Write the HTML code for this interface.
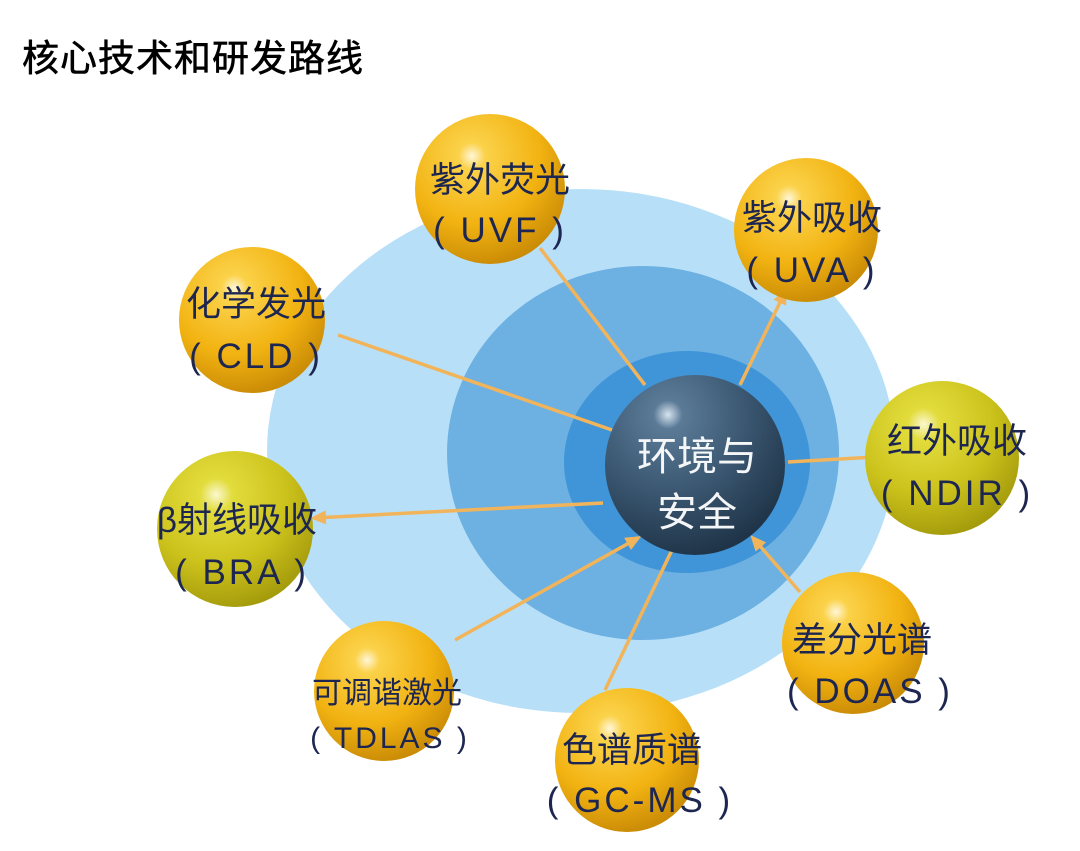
<!DOCTYPE html>
<html><head><meta charset="utf-8"><style>
html,body{margin:0;padding:0;background:#fff;width:1080px;height:851px;overflow:hidden}
svg{display:block}
</style></head><body>
<svg width="1080" height="851" viewBox="0 0 1080 851" xmlns="http://www.w3.org/2000/svg">
<defs>
<radialGradient id="gold" cx="0.38" cy="0.28" r="0.75">
<stop offset="0" stop-color="#fff6d8"/>
<stop offset="0.12" stop-color="#fbd24a"/>
<stop offset="0.6" stop-color="#f2b312"/>
<stop offset="1" stop-color="#c98a06"/>
</radialGradient>
<radialGradient id="lime" cx="0.38" cy="0.28" r="0.75">
<stop offset="0" stop-color="#fbf8d0"/>
<stop offset="0.14" stop-color="#e2dc3c"/>
<stop offset="0.6" stop-color="#ccc21c"/>
<stop offset="1" stop-color="#a39a0c"/>
</radialGradient>
<radialGradient id="navy" cx="0.35" cy="0.22" r="0.8">
<stop offset="0" stop-color="#d6e4f0"/>
<stop offset="0.1" stop-color="#5a7a96"/>
<stop offset="0.55" stop-color="#3a5670"/>
<stop offset="1" stop-color="#1f3448"/>
</radialGradient>
<marker id="ahb" markerWidth="16" markerHeight="14" refX="12" refY="7" orient="auto" markerUnits="userSpaceOnUse">
<path d="M0,0 L16,7 L0,14 z" fill="#f2b45a"/>
</marker>
</defs>
<text x="22" y="71" font-family="'Liberation Sans','Noto Sans CJK SC',sans-serif" font-size="37" fill="#000" stroke="#000" stroke-width="0.6" letter-spacing="1">核心技术和研发路线</text>

<ellipse cx="581" cy="451" rx="314" ry="262" fill="#b7e0f8"/>
<ellipse cx="643" cy="453" rx="196" ry="187" fill="#6db0e2"/>
<ellipse cx="687" cy="462" rx="123" ry="111" fill="#3f95d8"/>

<g stroke="#f2b45a" stroke-width="3.5" fill="none">
<line x1="540" y1="248" x2="645" y2="385"/>
<line x1="740" y1="385" x2="785" y2="292" marker-end="url(#ahb)"/>
<line x1="612" y1="430" x2="338" y2="335"/>
<line x1="788" y1="462" x2="893" y2="456" marker-end="url(#ahb)"/>
<line x1="603" y1="503" x2="314" y2="518" marker-end="url(#ahb)"/>
<line x1="455" y1="640" x2="638" y2="538" marker-end="url(#ahb)"/>
<line x1="605" y1="690" x2="672" y2="550"/>
<line x1="800" y1="592" x2="753" y2="538" marker-end="url(#ahb)"/>
</g>

<circle cx="695" cy="465" r="90" fill="url(#navy)"/>
<g font-family="'Liberation Sans','Noto Sans CJK SC',sans-serif" fill="#f4f6f8" font-size="40" text-anchor="middle">
<text x="697" y="470">环境与</text>
<text x="697" y="526">安全</text>
</g>

<circle cx="490" cy="189" r="75" fill="url(#gold)"/>
<circle cx="806" cy="230" r="72" fill="url(#gold)"/>
<circle cx="252" cy="320" r="73" fill="url(#gold)"/>
<circle cx="942" cy="458" r="77" fill="url(#lime)"/>
<circle cx="235" cy="529" r="78" fill="url(#lime)"/>
<circle cx="384" cy="691" r="70" fill="url(#gold)"/>
<circle cx="627" cy="760" r="72" fill="url(#gold)"/>
<circle cx="853" cy="643" r="71" fill="url(#gold)"/>

<g font-family="'Liberation Sans','Noto Sans CJK SC',sans-serif" fill="#1c2650" font-size="35" text-anchor="middle">
<text x="500" y="192">紫外荧光</text>
<text x="500" y="242" letter-spacing="3" xml:space="preserve">( UVF )</text>
<text x="812" y="230">紫外吸收</text>
<text x="812" y="282" letter-spacing="3" xml:space="preserve">( UVA )</text>
<text x="256" y="316">化学发光</text>
<text x="256" y="368" letter-spacing="3" xml:space="preserve">( CLD )</text>
<text x="957" y="453">红外吸收</text>
<text x="957" y="505" letter-spacing="3" xml:space="preserve">( NDIR )</text>
<text x="237" y="532">β射线吸收</text>
<text x="242" y="584" letter-spacing="3" xml:space="preserve">( BRA )</text>
<text x="387" y="703" font-size="30">可调谐激光</text>
<text x="390" y="748" font-size="30" letter-spacing="3" xml:space="preserve">( TDLAS )</text>
<text x="632" y="762">色谱质谱</text>
<text x="640" y="812" letter-spacing="3" xml:space="preserve">( GC-MS )</text>
<text x="862" y="652">差分光谱</text>
<text x="870" y="703" letter-spacing="3" xml:space="preserve">( DOAS )</text>
</g>
</svg>
</body></html>
